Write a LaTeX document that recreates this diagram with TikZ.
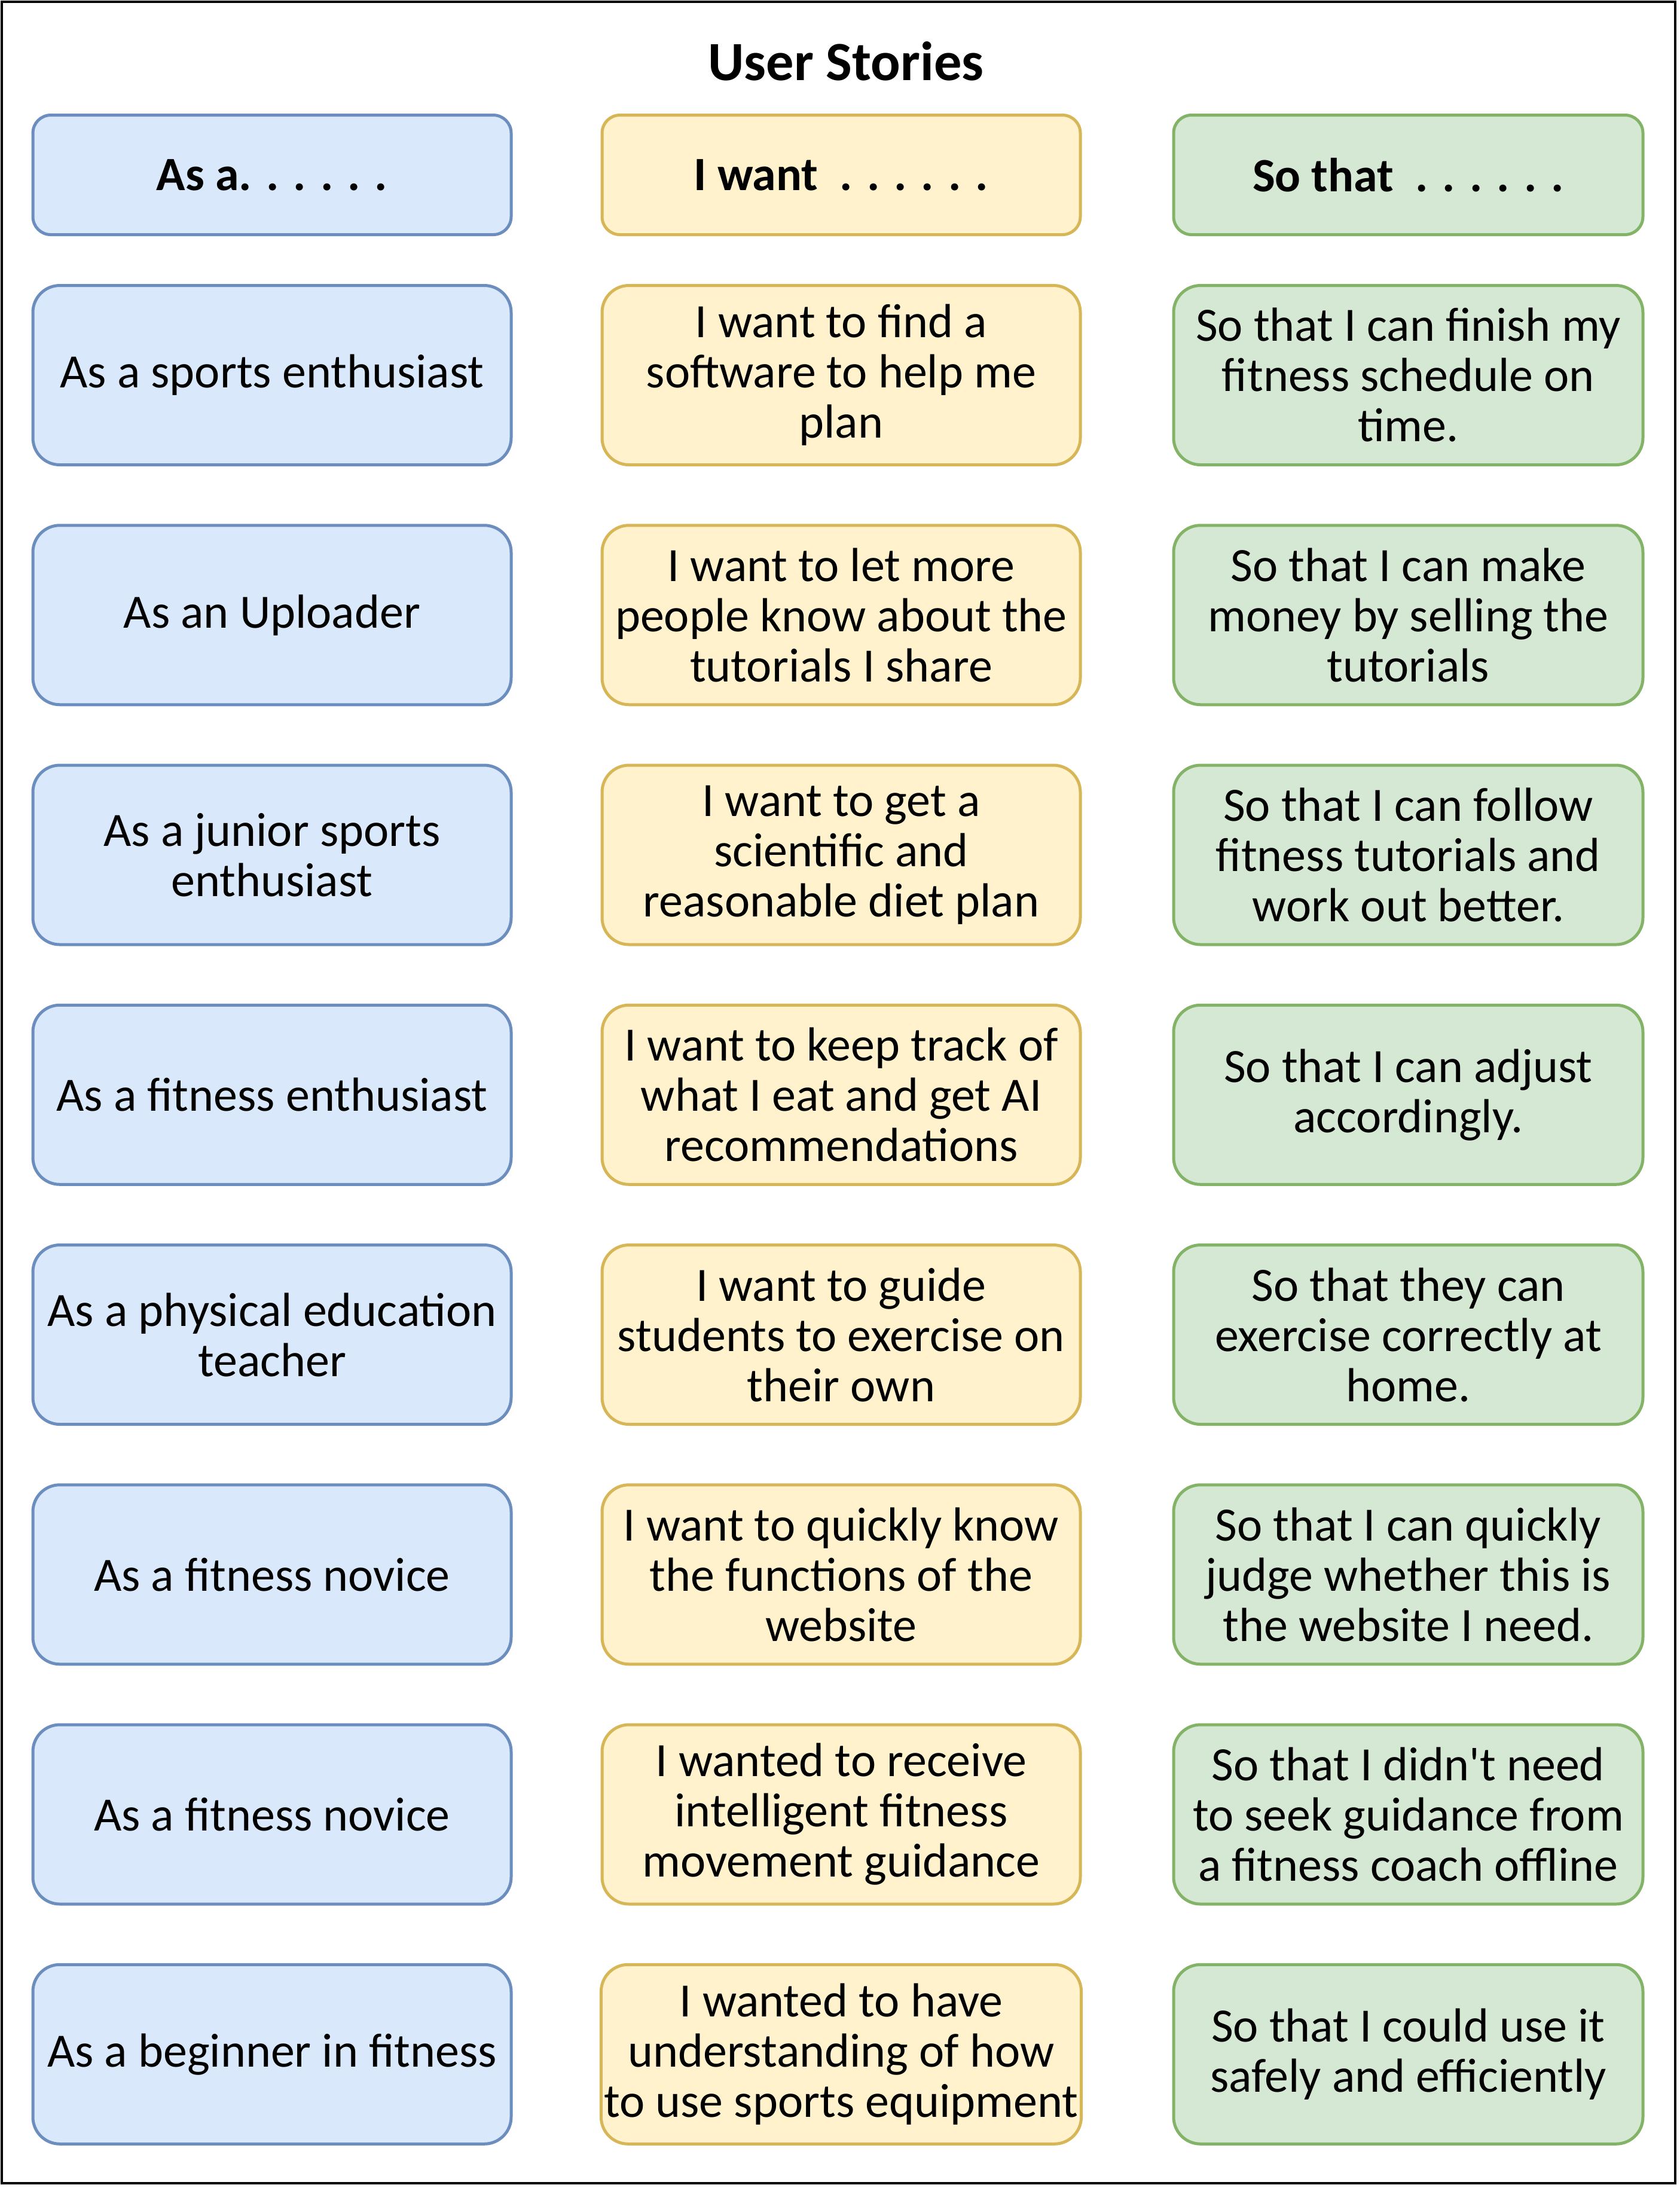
\documentclass[tikz,border=0pt]{standalone}
\usepackage{fontspec}
\setmainfont{Carlito}
\usepackage{tikz}
\usetikzlibrary{positioning}

\definecolor{blueFill}{HTML}{DAE8FC}
\definecolor{blueLine}{HTML}{6C8EBF}
\definecolor{yellowFill}{HTML}{FFF2CC}
\definecolor{yellowLine}{HTML}{D6B656}
\definecolor{greenFill}{HTML}{D5E8D4}
\definecolor{greenLine}{HTML}{82B366}

\begin{document}
\begin{tikzpicture}[
  card/.style={rectangle, draw, line width=1pt, rounded corners=9pt,
               minimum width=160pt, minimum height=60pt, inner sep=1pt,
               outer sep=0pt, align=center,
               font=\fontsize{16}{16.8}\selectfont},
  head/.style={card, rounded corners=6pt, minimum height=40pt,
               font=\fontsize{16}{16.8}\selectfont\bfseries},
  who/.style={fill=blueFill, draw=blueLine},
  want/.style={fill=yellowFill, draw=yellowLine},
  goal/.style={fill=greenFill, draw=greenLine, minimum width=157pt},
  node distance=20.25pt and 30.4pt,
]
\useasboundingbox (0,0) rectangle (562pt,-732pt);
\draw[line width=0.9pt] (0.6pt,-0.6pt) rectangle (560.4pt,-730.4pt);
\node[font=\fontsize{18.5}{20}\selectfont\bfseries] (title) at (283pt,-20.4pt) {User Stories};

% column headers
\node[head, who] (asA) at (91pt,-58.5pt) {As a. . . . . .};
\node[head, want, right=of asA] (wantI) {I want~~. . . . . .};
\node[head, goal, right=31.2pt of wantI] (soT) {So that~~. . . . . .};

% rows
\node[card, who, below=17pt of asA] (as1) {As a sports enthusiast};
\node[card, want, below=17pt of wantI] (want1) {I want to find a\\software to help me\\plan};
\node[card, goal, below=17pt of soT] (so1) {So that I can finish my\\fitness schedule on\\time.};

\node[card, who, below=of as1] (as2) {As an Uploader};
\node[card, want, below=of want1] (want2) {I want to let more\\people know about the\\tutorials I share};
\node[card, goal, below=of so1] (so2) {So that I can make\\money by selling the\\tutorials};

\node[card, who, below=of as2] (as3) {As a junior sports\\enthusiast};
\node[card, want, below=of want2] (want3) {I want to get a\\scientific and\\reasonable diet plan};
\node[card, goal, below=of so2] (so3) {So that I can follow\\fitness tutorials and\\work out better.};

\node[card, who, below=of as3] (as4) {As a fitness enthusiast};
\node[card, want, below=of want3] (want4) {I want to keep track of\\what I eat and get AI\\recommendations};
\node[card, goal, below=of so3] (so4) {So that I can adjust\\accordingly.};

\node[card, who, below=of as4] (as5) {As a physical education\\teacher};
\node[card, want, below=of want4] (want5) {I want to guide\\students to exercise on\\their own};
\node[card, goal, below=of so4] (so5) {So that they can\\exercise correctly at\\home.};

\node[card, who, below=of as5] (as6) {As a fitness novice};
\node[card, want, below=of want5] (want6) {I want to quickly know\\the functions of the\\website};
\node[card, goal, below=of so5] (so6) {So that I can quickly\\judge whether this is\\the website I need.};

\node[card, who, below=of as6] (as7) {As a fitness novice};
\node[card, want, below=of want6] (want7) {I wanted to receive\\intelligent fitness\\movement guidance};
\node[card, goal, below=of so6] (so7) {So that I didn\textquotesingle t need\\to seek guidance from\\a fitness coach offline};

\node[card, who, below=of as7] (as8) {As a beginner in fitness};
\node[card, want, below=of want7] (want8) {I wanted to have\\understanding of how\\to use sports equipment};
\node[card, goal, below=of so7] (so8) {So that I could use it\\safely and efficiently};
\end{tikzpicture}
\end{document}
